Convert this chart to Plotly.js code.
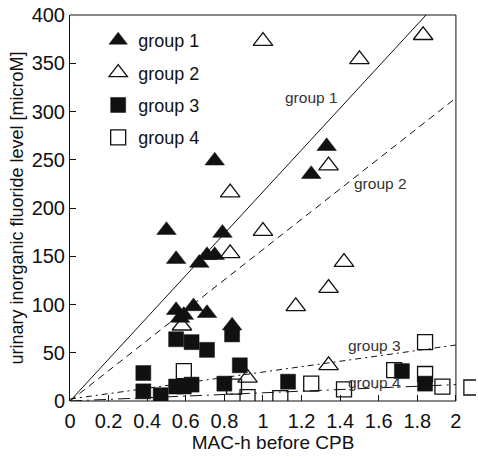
<!DOCTYPE html>
<html>
<head>
<meta charset="utf-8">
<script src="https://cdn.plot.ly/plotly-3.0.1.min.js"></script>
<style>html,body{margin:0;padding:0;background:#fff;}#chart{width:478px;height:457px;}</style>
</head>
<body>
<div id="chart"></div>
<script>
// Group 1 (filled triangles)
const g1X = [0.50, 0.55, 0.67, 0.71, 0.75, 0.75, 0.79, 1.25, 1.33, 0.55, 0.64, 0.59, 0.71, 0.84, 0.57];
const g1Y = [177, 147, 143, 151, 151, 249, 174, 235, 264, 94, 98, 89, 91, 78, 86];
// Group 2 (open triangles)
const g2X = [1.00, 1.50, 1.83, 1.34, 0.83, 1.00, 0.83, 1.42, 1.34, 1.17, 1.34, 0.58, 0.92];
const g2Y = [373, 354, 379, 244, 216, 176, 153, 144, 117, 98, 37, 78, 24];
// Group 3 (filled squares)
const g3X = [0.38, 0.38, 0.47, 0.55, 0.63, 0.71, 0.84, 0.88, 0.55, 0.63, 0.80, 1.13, 1.72, 1.84, 0.59];
const g3Y = [29, 10, 6, 64, 61, 53, 69, 37, 15, 17, 18, 20, 31, 18, 15];
// Group 4 (open squares)
const g4X = [0.59, 0.85, 0.92, 1.09, 1.25, 1.42, 1.68, 1.84, 1.84, 1.93, 2.08];
const g4Y = [31, 15, 4, 3, 18, 12, 32, 28, 61, 15, 14];
// Regression line end points
const fit1X = [0, 1.845], fit1Y = [0, 400];
const fit2X = [0, 2], fit2Y = [0, 314];
const fit3X = [0, 2], fit3Y = [2, 58];
const fit4X = [0, 2], fit4Y = [0, 17];
// Labels
const groupNames = ["group 1", "group 2", "group 3", "group 4"];
const lineLabelX = [1.25, 1.61, 1.58, 1.58];
const lineLabelY = [315, 225, 58, 19];
const xTickVals = [0, 0.2, 0.4, 0.6, 0.8, 1, 1.2, 1.4, 1.6, 1.8, 2];
const xTickText = ["0", "0.2", "0.4", "0.6", "0.8", "1", "1.2", "1.4", "1.6", "1.8", "2"];
const yTickVals = [0, 50, 100, 150, 200, 250, 300, 350, 400];
const xTitle = "MAC-h before CPB";
const yTitle = "urinary inorganic fluoride level [microM]";

const FONT = "Liberation Sans, Arial, sans-serif";
const ink = "#111";

function pts(x, y, name, symbol, filled, grp) {
  const tri = symbol.indexOf("triangle") === 0;
  return {
    type: "scatter", mode: "markers", x: x, y: y, name: name,
    legendgroup: grp,
    marker: {
      symbol: symbol, size: tri ? 17 : 15,
      color: ink,
      line: {color: ink, width: filled ? 0.5 : 1.3}
    }
  };
}
function fit(x, y, dash) {
  return {type: "scatter", mode: "lines", x: x, y: y, showlegend: false,
    hoverinfo: "skip", line: {color: ink, width: 1, dash: dash}};
}

const data = [
  fit(fit1X, fit1Y, "solid"),
  fit(fit2X, fit2Y, "7px,5px"),
  fit(fit3X, fit3Y, "6px,4px,2px,4px"),
  fit(fit4X, fit4Y, "12px,5px,2px,5px"),
  pts(g1X, g1Y, groupNames[0], "triangle-up", true, "a"),
  pts(g2X, g2Y, groupNames[1], "triangle-up-open", false, "b"),
  pts(g3X, g3Y, groupNames[2], "square", true, "c"),
  pts(g4X, g4Y, groupNames[3], "square-open", false, "d")
];

const annotations = groupNames.map((t, i) => ({
  x: lineLabelX[i], y: lineLabelY[i], xref: "x", yref: "y", text: t,
  showarrow: false, font: {family: FONT, size: 15.5, color: "#333"}
}));

const xMax = xTickVals[xTickVals.length - 1];
const frame = [
  {type: "line", xref: "x", yref: "paper", x0: 0, x1: xMax, y0: 0, y1: 0},
  {type: "line", xref: "x", yref: "paper", x0: 0, x1: xMax, y0: 1, y1: 1},
  {type: "line", xref: "x", yref: "paper", x0: xMax, x1: xMax, y0: 0, y1: 1}
].map(s => Object.assign(s, {line: {color: ink, width: 1}, layer: "above"}));

const layout = {
  width: 478, height: 457,
  margin: {l: 70, r: 2, t: 15, b: 56},
  paper_bgcolor: "#fff", plot_bgcolor: "#fff",
  font: {family: FONT, color: ink},
  showlegend: true,
  legend: {
    x: 0.073 * 386 / 406, y: 0.982, xanchor: "left", yanchor: "top",
    traceorder: "grouped", tracegroupgap: 6,
    font: {family: FONT, size: 18, color: ink},
    bgcolor: "rgba(0,0,0,0)", borderwidth: 0
  },
  xaxis: {
    range: [0, 2.104], tickmode: "array",
    tickvals: xTickVals, ticktext: xTickText,
    ticks: "inside", ticklen: 6, tickcolor: ink, tickwidth: 1,
    ticklabelstandoff: 6,
    showline: false, showgrid: false, zeroline: false,
    tickfont: {family: FONT, size: 20, color: ink},
    title: {text: xTitle, font: {family: FONT, size: 19, color: ink}, standoff: 4}
  },
  yaxis: {
    range: [0, 400], tickmode: "array",
    tickvals: yTickVals,
    ticks: "inside", ticklen: 6, tickcolor: ink, tickwidth: 1,
    showline: true, linecolor: ink, linewidth: 1, mirror: false,
    showgrid: false, zeroline: false,
    tickfont: {family: FONT, size: 20, color: ink},
    title: {text: yTitle, font: {family: FONT, size: 18, color: ink}, standoff: 3}
  },
  shapes: frame,
  annotations: annotations
};

Plotly.newPlot("chart", data, layout, {displayModeBar: false, staticPlot: true});
</script>
</body>
</html>
